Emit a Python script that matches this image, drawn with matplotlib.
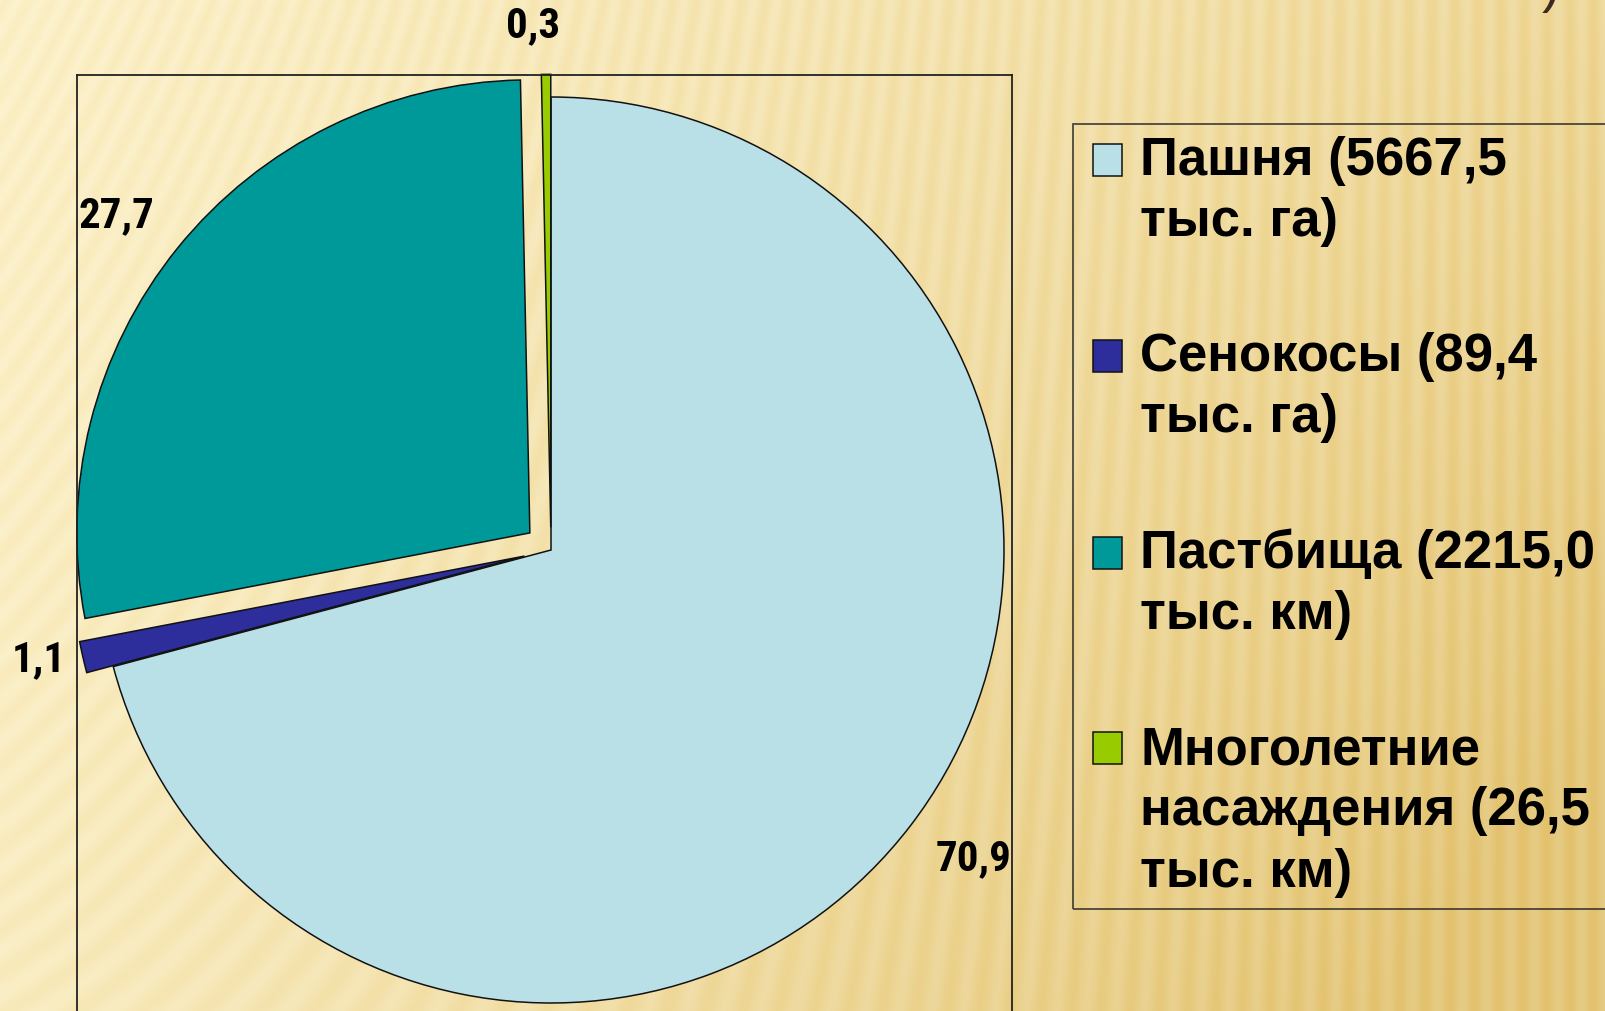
import numpy as np
import matplotlib
matplotlib.use('Agg')
import matplotlib.pyplot as plt
from matplotlib.patches import Rectangle, Wedge
from matplotlib.legend_handler import HandlerPatch
from matplotlib.font_manager import FontProperties, fontManager

# ---------------- data ----------------
categories = ["Пашня (5667,5\nтыс. га)",
              "Сенокосы (89,4\nтыс. га)",
              "Пастбища (2215,0\nтыс. км)",
              "Многолетние\nнасаждения (26,5\nтыс. км)"]
areas = [5667.5, 89.4, 2215.0, 26.5]
colors = ['#B9E0E6', '#2D2D9C', '#009999', '#99CC00']
explode = [0.0, 0.06, 0.06, 0.05]
label_dist = [1.155, 1.096, 1.15, 1.108]   # label distance from each wedge's centre
label_dang = [1.4, -0.9, 1.4, 1.4]         # small angular nudge of labels (deg)

W, H = 1606, 1011
fig = plt.figure(figsize=(W / 100, H / 100), dpi=100)

# ---------------- background (decorative) ----------------
yy, xx = np.mgrid[0:H, 0:W].astype(float)
xn, yn = xx / W, yy / H
t = np.clip(0.62 * xn + 0.38 * yn * (0.4 + xn), 0, 1) ** 1.2
c1 = np.array([252, 242, 205]) / 255
c2 = np.array([230, 203, 132]) / 255
base = c1[None, None, :] * (1 - t[..., None]) + c2[None, None, :] * t[..., None]
a = 0.55 * (1 - xn) ** 2
u = xx + a * yy
stripe = 0.5 + 0.5 * np.sin(2 * np.pi * u / 23.0)
amp = (0.6 + 0.6 * xn)[..., None]
img = base - amp * stripe[..., None] * np.array([0.010, 0.030, 0.075])[None, None, :]
img = np.clip(img, 0, 1)
bg = fig.add_axes([0, 0, 1, 1], zorder=0)
bg.imshow(img, aspect='auto', extent=(0, 1, 0, 1), interpolation='bilinear')
bg.set_axis_off()

# ---------------- label font (narrow bold if available) ----------------
LBL_FS = 31

def find_narrow_bold():
    prefs = ['Liberation Sans Narrow', 'Roboto Condensed', 'Open Sans Condensed',
             'Noto Sans Condensed', 'DejaVu Sans Condensed']
    ents = fontManager.ttflist
    for p in prefs:
        for f in ents:
            fn = f.fname.replace('-', '').replace('_', '').lower()
            if (f.name == p or p.replace(' ', '').lower() in fn) and \
               ('bold' in fn) and ('italic' not in fn) and ('oblique' not in fn) \
               and ('semibold' not in fn) and ('extrabold' not in fn):
                return FontProperties(fname=f.fname, size=LBL_FS)
    for f in ents:
        fn = f.fname.lower()
        if ('condensed' in fn or 'narrow' in fn) and 'bold' in fn and 'italic' not in fn \
           and 'oblique' not in fn and 'semibold' not in fn and 'extrabold' not in fn \
           and 'mono' not in fn and 'serif' not in fn.replace('sansserif', ''):
            return FontProperties(fname=f.fname, size=LBL_FS)
    return FontProperties(family='Liberation Sans', weight='bold', size=27)

label_fp = find_narrow_bold()

# ---------------- pie axes ----------------
R = 453.0
cx, cy = 551.0, 550.0
left_px, right_px, top_px, bottom_px = 77.0, 1012.0, 75.0, 1061.0
ax = fig.add_axes([left_px / W, 1 - bottom_px / H,
                   (right_px - left_px) / W, (bottom_px - top_px) / H], zorder=2)
ax.set_facecolor('none')

def pct_fmt(p):
    return f"{p:.1f}".replace('.', ',')

wedges, texts, autotexts = ax.pie(
    areas, colors=colors, explode=explode, startangle=90, counterclock=False,
    autopct=pct_fmt, pctdistance=1.12, radius=1.0, center=(0, 0),
    wedgeprops=dict(edgecolor='#111111', linewidth=1.1),
    textprops=dict(color='black'), frame=True)
for w, at, d, da in zip(wedges, autotexts, label_dist, label_dang):
    at.set_fontproperties(label_fp)
    mid = np.deg2rad((w.theta1 + w.theta2) / 2.0 + da)
    wx, wy = w.center
    at.set_position((wx + d * w.r * np.cos(mid), wy + d * w.r * np.sin(mid)))

ax.set_aspect('auto')
ax.set_xlim(-(cx - left_px) / R, (right_px - cx) / R)
ax.set_ylim(-(bottom_px - cy) / R, (cy - top_px) / R)
ax.set_xticks([])
ax.set_yticks([])
for s in ax.spines.values():
    s.set_color('#222222')
    s.set_linewidth(1.3)

for w, c in zip(wedges, categories):
    w.set_label(c)

# ---------------- legend ----------------
LEG_FS = 38
LINESP = 1.29
SQ_DX = 6.0  # points

def square_handle(legend, orig_handle, xdescent, ydescent, width, height, fontsize):
    nlines = orig_handle.get_label().count('\n') + 1
    shift = (nlines - 1) / 2.0 * fontsize * 1.13 * LINESP / 1.2
    return Rectangle((-xdescent + SQ_DX, -ydescent + shift), width, height)

leg_top = 1 - 124 / H
leg = fig.legend(handles=wedges, loc='upper left',
                 bbox_to_anchor=(1073 / W, leg_top - 0.8, 620 / W, 0.8),
                 bbox_transform=fig.transFigure, mode='expand',
                 borderaxespad=0, frameon=True, fancybox=False,
                 prop=FontProperties(family='Liberation Sans', weight='bold', size=LEG_FS),
                 handlelength=0.55, handleheight=0.55, handletextpad=0.35 + SQ_DX / LEG_FS,
                 borderpad=0.22, labelspacing=1.61,
                 handler_map={Wedge: HandlerPatch(patch_func=square_handle)})
for tx in leg.get_texts():
    tx.set_linespacing(LINESP)
leg.get_frame().set_edgecolor('#222222')
leg.get_frame().set_facecolor('none')
leg.get_frame().set_linewidth(1.3)
leg.set_zorder(3)

# partial title glyph visible at top right
fig.text(1542 / W, 1 - 13 / H, ")", fontsize=40, color='#3B2A22',
         ha='left', va='bottom', family='Liberation Sans', zorder=4)

fig.savefig('out.png', dpi=100)
